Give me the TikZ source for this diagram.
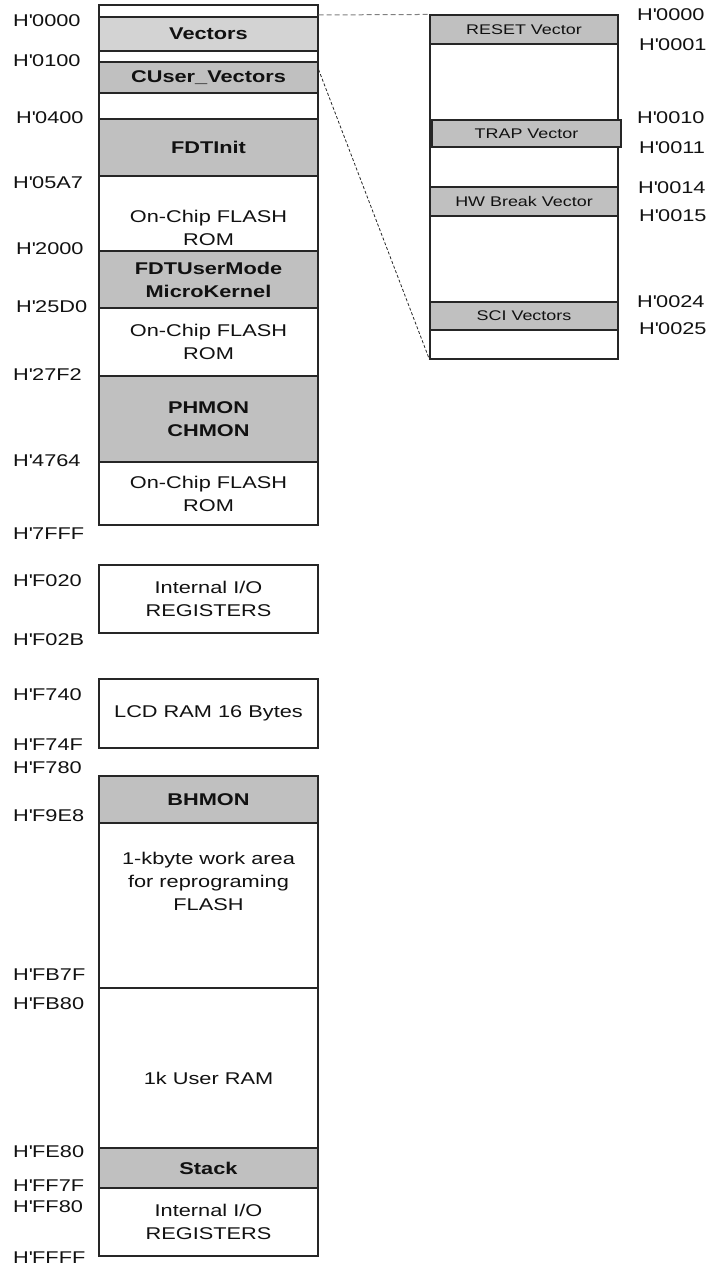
\documentclass[tikz,border=0pt]{standalone}
\usepackage{fontspec}
\setmainfont{Liberation Sans}[FakeStretch=1.28]
\definecolor{vecgray}{HTML}{D3D3D3}
\definecolor{blkgray}{HTML}{C0C0C0}
\definecolor{edgec}{HTML}{262626}
\definecolor{txt}{HTML}{111111}
\newcommand{\hq}{H\textquotesingle}
\begin{document}
\begin{tikzpicture}[x=1pt,y=-1pt,
  blk/.style={draw=edgec,line width=1.1pt,inner sep=0pt,align=center,
    font=\fontsize{17}{23}\selectfont,text=txt},
  bblk/.style={blk,font=\fontsize{17}{23}\selectfont\bfseries},
  mainw/.style={minimum width=219pt},
  rw/.style={minimum width=188pt},
  shade/.style={fill=blkgray},
  rblk/.style={blk,rw,fill=blkgray,font=\fontsize{14}{17}\selectfont},
  addr/.style={anchor=west,inner sep=0pt,font=\fontsize{17}{20}\selectfont,text=txt},
  guide/.style={draw=black!50,line width=1pt,dash pattern=on 5pt off 3pt},
  zoomline/.style={draw=black!85,line width=0.8pt,dash pattern=on 3pt off 2pt}]
\useasboundingbox (0,0) rectangle (709,1268);

% ---- main column (flash) ----
\node[blk,mainw,minimum height=520pt] (flash) at (208.5,265) {};
\node[bblk,mainw,minimum height=34pt,fill=vecgray] (vec) at (208.5,34) {Vectors};
\node[bblk,mainw,minimum height=31pt,shade] (cuv) at (208.5,77.5) {CUser\_Vectors};
\node[bblk,mainw,minimum height=57pt,shade] (fdti) at (208.5,147.5) {FDTInit};
\node[blk,mainw,minimum height=75pt] (rom1) at (208.5,213.5) {};
\node[blk,draw=none] (rom1t) at (208.5,228) {On-Chip FLASH\\ROM};
\node[bblk,mainw,minimum height=57pt,shade] (fdtu) at (208.5,279.5) {FDTUserMode\\MicroKernel};
\node[blk,mainw,minimum height=68pt] (rom2) at (208.5,342) {On-Chip FLASH\\ROM};
\node[bblk,mainw,minimum height=86pt,shade] (phmon) at (208.5,419) {PHMON\\CHMON};
\node[blk,mainw,minimum height=63pt] (rom3) at (208.5,493.5) {On-Chip FLASH\\ROM};

% ---- I/O and LCD ----
\node[blk,mainw,minimum height=68pt] (io1) at (208.5,599) {Internal I/O\\REGISTERS};
\node[blk,mainw,minimum height=69pt] (lcd) at (208.5,713.5) {LCD RAM 16 Bytes};

% ---- RAM column ----
\node[bblk,mainw,minimum height=47pt,shade] (bhmon) at (208.5,799.5) {BHMON};
\node[blk,mainw,minimum height=165pt] (work) at (208.5,905.5) {};
\node[blk,draw=none] (workt) at (208.5,881) {1-kbyte work area\\for reprograming\\FLASH};
\node[blk,mainw,minimum height=160pt] (uram) at (208.5,1068) {};
\node[blk,draw=none] (uramt) at (208.5,1078) {1k User RAM};
\node[bblk,mainw,minimum height=40pt,shade] (stack) at (208.5,1168) {Stack};
\node[blk,mainw,minimum height=68pt] (io2) at (208.5,1222) {Internal I/O\\REGISTERS};

% ---- right vector table ----
\node[blk,rw,minimum height=344pt] (rbox) at (524,187) {};
\node[rblk,minimum height=29pt] (reset) at (524,29.5) {RESET Vector};
\node[rblk,minimum height=27pt,minimum width=189pt] (trap) at (526.5,133.5) {TRAP Vector};
\node[rblk,minimum height=29pt] (hwbrk) at (524,201.5) {HW Break Vector};
\node[rblk,minimum height=28pt] (sci) at (524,316) {SCI Vectors};

% ---- connectors ----
\draw[guide] ([yshift=1.5pt]vec.north east) -- (rbox.north west);
\draw[zoomline] ([yshift=8pt]cuv.east) -- (rbox.south west);

% ---- left addresses ----
\node[addr] (a1) at (13,21) {\hq0000};
\node[addr] (a2) at (13,61) {\hq0100};
\node[addr] (a3) at (16,118) {\hq0400};
\node[addr] (a4) at (13,183) {\hq05A7};
\node[addr] (a5) at (16,249) {\hq2000};
\node[addr] (a6) at (16,307) {\hq25D0};
\node[addr] (a7) at (13,375) {\hq27F2};
\node[addr] (a8) at (13,461) {\hq4764};
\node[addr] (a9) at (13,534) {\hq7FFF};
\node[addr] (a10) at (13,581) {\hq F020};
\node[addr] (a11) at (13,639.5) {\hq F02B};
\node[addr] (a12) at (13,695) {\hq F740};
\node[addr] (a13) at (13,745) {\hq F74F};
\node[addr] (a14) at (13,768) {\hq F780};
\node[addr] (a15) at (13,816) {\hq F9E8};
\node[addr] (a16) at (13,975) {\hq FB7F};
\node[addr] (a17) at (13,1004) {\hq FB80};
\node[addr] (a18) at (13,1152) {\hq FE80};
\node[addr] (a19) at (13,1185.5) {\hq FF7F};
\node[addr] (a20) at (13,1207) {\hq FF80};
\node[addr] (a21) at (13,1258) {\hq FFFF};

% ---- right addresses ----
\node[addr] (b1) at (637,15) {\hq0000};
\node[addr] (b2) at (639,45) {\hq0001};
\node[addr] (b3) at (637,117.5) {\hq0010};
\node[addr] (b4) at (639,147.5) {\hq0011};
\node[addr] (b5) at (638,187.5) {\hq0014};
\node[addr] (b6) at (639,216) {\hq0015};
\node[addr] (b7) at (637,301.5) {\hq0024};
\node[addr] (b8) at (639,329) {\hq0025};
\end{tikzpicture}
\end{document}
